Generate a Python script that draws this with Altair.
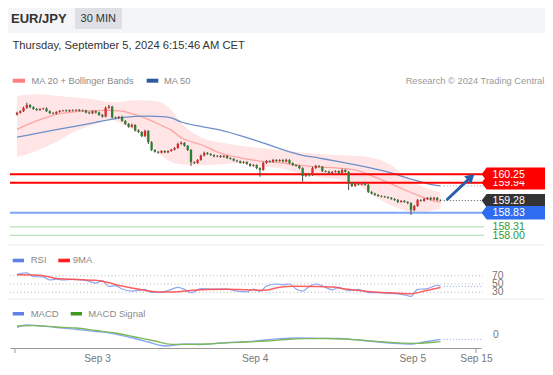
import altair as alt
import pandas as pd

# ---------------- data ----------------
first_open = 162.45
closes = [
    162.52, 162.58, 162.70, 162.81, 162.73, 162.66, 162.62, 162.66, 162.68, 162.58,
    162.51, 162.49, 162.55, 162.59, 162.61, 162.58, 162.62, 162.60, 162.63, 162.59,
    162.61, 162.53, 162.50, 162.58, 162.53, 162.44, 162.38, 162.70, 162.75, 162.35,
    162.33, 162.37, 162.22, 162.11, 162.00, 162.07, 161.87, 161.81, 161.66, 161.85,
    161.43, 161.15, 161.08, 161.05, 161.11, 161.06, 161.11, 161.16, 161.22, 161.37,
    161.41, 161.30, 161.15, 160.70, 160.67, 160.78, 160.94, 161.04, 161.00, 160.96,
    160.91, 160.93, 160.89, 160.93, 160.85, 160.82, 160.76, 160.73, 160.67, 160.70,
    160.63, 160.56, 160.59, 160.48, 160.41, 160.67, 160.74, 160.71, 160.78, 160.74,
    160.78, 160.72, 160.78, 160.66, 160.59, 160.56, 160.48, 160.19, 160.26, 160.22,
    160.48, 160.56, 160.53, 160.37, 160.35, 160.30, 160.34, 160.37, 160.30, 160.41,
    160.34, 159.93, 159.82, 159.89, 159.87, 159.90, 159.86, 159.60, 159.54, 159.49,
    159.45, 159.43, 159.41, 159.38, 159.34, 159.30, 159.23, 159.27, 159.23, 159.19,
    158.93, 159.08, 159.30, 159.27, 159.34, 159.38, 159.32, 159.38, 159.30, 159.28,
]
wick_up = [
    0.04, 0.03, 0.05, 0.08, 0.03, 0.03, 0.04, 0.03, 0.03, 0.04,
    0.03, 0.04, 0.03, 0.03, 0.02, 0.03, 0.02, 0.03, 0.02, 0.03,
    0.03, 0.02, 0.04, 0.03, 0.03, 0.03, 0.04, 0.05, 0.06, 0.03,
    0.03, 0.03, 0.04, 0.03, 0.03, 0.05, 0.03, 0.04, 0.03, 0.05,
    0.03, 0.04, 0.03, 0.03, 0.03, 0.03, 0.03, 0.03, 0.04, 0.05,
    0.06, 0.03, 0.03, 0.03, 0.03, 0.03, 0.04, 0.05, 0.03, 0.03,
    0.03, 0.03, 0.03, 0.03, 0.03, 0.03, 0.03, 0.03, 0.03, 0.04,
    0.03, 0.03, 0.04, 0.03, 0.03, 0.05, 0.04, 0.03, 0.04, 0.03,
    0.03, 0.03, 0.05, 0.03, 0.03, 0.03, 0.03, 0.03, 0.04, 0.03,
    0.05, 0.04, 0.03, 0.03, 0.03, 0.03, 0.03, 0.03, 0.03, 0.05,
    0.03, 0.03, 0.03, 0.04, 0.03, 0.03, 0.03, 0.03, 0.03, 0.03,
    0.03, 0.03, 0.03, 0.03, 0.03, 0.03, 0.04, 0.03, 0.03, 0.03,
    0.03, 0.04, 0.04, 0.03, 0.04, 0.03, 0.04, 0.04, 0.03, 0.02,
]
wick_dn = [
    0.03, 0.03, 0.03, 0.03, 0.04, 0.03, 0.03, 0.03, 0.03, 0.03,
    0.04, 0.03, 0.03, 0.03, 0.03, 0.02, 0.03, 0.03, 0.03, 0.02,
    0.03, 0.03, 0.03, 0.03, 0.04, 0.03, 0.04, 0.03, 0.03, 0.04,
    0.03, 0.03, 0.03, 0.04, 0.03, 0.03, 0.04, 0.03, 0.04, 0.03,
    0.06, 0.04, 0.03, 0.04, 0.03, 0.03, 0.03, 0.03, 0.03, 0.03,
    0.03, 0.03, 0.04, 0.14, 0.04, 0.03, 0.03, 0.03, 0.03, 0.03,
    0.03, 0.03, 0.03, 0.03, 0.03, 0.03, 0.03, 0.04, 0.03, 0.03,
    0.03, 0.03, 0.03, 0.04, 0.25, 0.03, 0.03, 0.03, 0.03, 0.03,
    0.03, 0.03, 0.03, 0.03, 0.03, 0.03, 0.04, 0.21, 0.04, 0.05,
    0.03, 0.03, 0.03, 0.04, 0.03, 0.03, 0.03, 0.03, 0.03, 0.03,
    0.03, 0.26, 0.04, 0.03, 0.03, 0.03, 0.03, 0.04, 0.03, 0.03,
    0.03, 0.03, 0.03, 0.03, 0.03, 0.03, 0.04, 0.03, 0.03, 0.04,
    0.18, 0.04, 0.03, 0.03, 0.03, 0.03, 0.03, 0.03, 0.03, 0.02,
]

ov_idx = [0, 6, 12, 18, 24, 28, 32, 36, 40, 44, 47, 50, 56, 62, 68, 74, 80, 86, 92, 98, 104, 110, 114, 118, 122, 126, 129]
bb_upper = [163.14, 163.20, 163.15, 163.08, 163.00, 162.92, 162.93, 162.98, 162.97, 162.90, 162.62, 162.15, 161.62, 161.42, 161.30, 161.22, 161.14, 161.06, 161.00, 160.95, 160.93, 160.80, 160.58, 160.20, 159.88, 159.68, 159.58]
bb_lower = [160.88, 161.12, 161.45, 161.85, 162.12, 162.30, 162.10, 161.85, 161.45, 160.95, 160.70, 160.62, 160.58, 160.62, 160.68, 160.55, 160.48, 160.28, 160.15, 160.05, 159.85, 159.35, 159.10, 158.92, 158.82, 158.90, 159.00]
ma20 = [161.91, 162.22, 162.46, 162.56, 162.60, 162.61, 162.58, 162.45, 162.28, 162.05, 161.88, 161.60, 161.35, 161.03, 160.86, 160.74, 160.68, 160.58, 160.52, 160.48, 160.38, 160.10, 159.90, 159.68, 159.48, 159.30, 159.22]
ma50 = [161.62, 161.76, 161.90, 162.03, 162.17, 162.26, 162.34, 162.39, 162.40, 162.38, 162.33, 162.18, 162.02, 161.88, 161.68, 161.45, 161.20, 160.98, 160.85, 160.72, 160.58, 160.42, 160.30, 160.15, 160.01, 159.88, 159.82]

rsi_idx = [0, 3, 5, 8, 10, 12, 14, 17, 20, 23, 24, 26, 28, 30, 32, 35, 38, 39, 41, 44, 46, 49, 51, 53, 56, 60, 64, 67, 70, 72, 74, 76, 79, 81, 83, 85, 87, 89, 91, 94, 96, 98, 101, 104, 107, 110, 113, 116, 119, 120, 122, 125, 128, 129]
rsi_val = [73.5, 77, 68, 67, 60, 61.5, 60, 61, 60, 54, 52, 58, 44, 46, 38, 33, 36, 37, 29.5, 30, 34, 42, 37, 29, 39, 37.5, 37.5, 33, 31, 38, 32, 45, 50, 48, 50, 38, 33, 44, 50, 42, 36, 42, 34, 37, 29, 29, 28, 26, 22, 20, 37, 39, 47, 44]
ma9_idx = [0, 5, 10, 12, 18, 24, 27, 32, 38, 43, 48, 52, 58, 64, 70, 75, 80, 84, 90, 96, 100, 106, 110, 116, 120, 124, 129]
ma9_val = [72, 71.5, 67, 63, 61, 59, 55, 45, 36, 31, 31, 33.5, 37, 37.5, 36, 35, 42, 44.5, 44, 42.5, 38, 33, 30, 28, 26.5, 33, 41.6]

macd_idx = [0, 3, 6, 12, 18, 24, 28, 34, 40, 44, 46, 48, 52, 56, 62, 68, 74, 80, 86, 92, 98, 104, 110, 116, 120, 124, 129]
macd_val = [0.077, 0.10, 0.095, 0.075, 0.057, 0.035, 0.022, -0.02, -0.07, -0.105, -0.11, -0.10, -0.09, -0.095, -0.078, -0.07, -0.055, -0.037, -0.03, -0.033, -0.035, -0.05, -0.07, -0.085, -0.09, -0.07, -0.043]
sig_idx = [0, 5, 12, 18, 24, 30, 36, 42, 47, 52, 58, 64, 70, 76, 82, 88, 94, 100, 106, 112, 118, 122, 126, 129]
sig_val = [0.09, 0.093, 0.08, 0.07, 0.045, 0.02, -0.02, -0.06, -0.093, -0.093, -0.09, -0.078, -0.07, -0.06, -0.045, -0.037, -0.035, -0.04, -0.055, -0.07, -0.082, -0.083, -0.075, -0.067]

res_levels = [160.25, 159.94]
last_price = [159.28]
pivot_level = [158.83]
sup_levels = [158.31, 158.00]

rsi_levels = [70, 50, 30]
macd_zero = [0]

date_labels = ["Sep 3", "Sep 4", "Sep 5", "Sep 15"]
date_pos = [24.4, 72.4, 120.4, 139.8]

arrow_idx = [131.1, 137.6]
arrow_price = [159.33, 160.07]
arrow_head_idx = [138.3]
arrow_head_price = [160.15]

# ---------------- scales / helpers ----------------
FONT = "Liberation Sans"
XDOM = [-0.6, 139.8]
xs = alt.Scale(domain=XDOM, nice=False, zero=False)
ps = alt.Scale(domain=[153.841, 166.387], nice=False, zero=False)
rs = alt.Scale(domain=[-104.22, 715.06], nice=False, zero=False)
ms = alt.Scale(domain=[-0.13, 3.27], nice=False, zero=False)

expr = "'" + date_labels[-1] + "'"
for k in range(len(date_pos) - 2, -1, -1):
    thr = (date_pos[k] + date_pos[k + 1]) / 2
    expr = f"datum.value < {thr} ? '{date_labels[k]}' : ({expr})"

x_axis = alt.Axis(values=date_pos, labelExpr=expr, title=None, ticks=False, tickSize=0,
                  domainColor="#9a9a9a", domainWidth=1, labelColor="#777777",
                  labelFontSize=10.2, labelFont=FONT, labelPadding=5, grid=False,
                  labelFlush=False, labelOverlap=False, zindex=2)


def X(f):
    return alt.X(f, type="quantitative", scale=xs, axis=x_axis)


def Y(f, sc):
    return alt.Y(f, type="quantitative", scale=sc, axis=None)


one = pd.DataFrame({"k": [0]})


def px_rect(x1, y1, x2, y2, color):
    return alt.Chart(one).mark_rect(color=color).encode(
        x=alt.value(x1 - 10), x2=alt.value(x2 - 10), y=alt.value(y1 - 8), y2=alt.value(y2 - 8))


def px_text(t, x, y, size, color, weight="normal", align="left"):
    return alt.Chart(pd.DataFrame({"t": [t]})).mark_text(
        align=align, baseline="alphabetic", fontSize=size, color=color, fontWeight=weight, font=FONT
    ).encode(x=alt.value(x - 10), y=alt.value(y - 8), text="t:N")


# ---------------- tables ----------------
opens = [first_open] + closes[:-1]
cdf = pd.DataFrame({"i": range(len(closes)), "o": opens, "c": closes, "wu": wick_up, "wd": wick_dn})
cdf["hi"] = cdf[["o", "c"]].max(axis=1) + cdf["wu"]
cdf["lo"] = cdf[["o", "c"]].min(axis=1) - cdf["wd"]
cdf["col"] = ["#d92b2b" if c > o else "#2e7d32" for o, c in zip(opens, closes)]

odf = pd.DataFrame({"i": ov_idx, "up": bb_upper, "lo": bb_lower, "ma20": ma20, "ma50": ma50})

# ---------------- background / frame ----------------
bg = alt.layer(
    px_rect(0, 33, 547, 244, "white"),
    px_rect(0, 246, 547, 298, "white"),
    px_rect(0, 300, 547, 375, "white"),
    px_rect(75, 7, 122, 29, "#dde1e6"),
)

# ---------------- price panel ----------------
band = alt.Chart(odf).mark_area(color="#ffe5e5", interpolate="monotone").encode(
    x=X("i"), y=Y("up", ps), y2="lo")
l20 = alt.Chart(odf).mark_line(color="#ffa3a3", strokeWidth=1.3, interpolate="monotone").encode(
    x=X("i"), y=Y("ma20", ps))
l50 = alt.Chart(odf).mark_line(color="#6d8fc9", strokeWidth=1.3, interpolate="monotone").encode(
    x=X("i"), y=Y("ma50", ps))

res_rules = alt.Chart(pd.DataFrame({"p": res_levels})).mark_rule(color="#ff0000", strokeWidth=2).encode(
    y=Y("p", ps), x=alt.value(0), x2=alt.value(474))
piv_rule = alt.Chart(pd.DataFrame({"p": pivot_level})).mark_rule(color="#7ea6f4", strokeWidth=2).encode(
    y=Y("p", ps), x=alt.value(0), x2=alt.value(474))
sup_rules = alt.Chart(pd.DataFrame({"p": sup_levels})).mark_rule(color="#a9d8a9", strokeWidth=1).encode(
    y=Y("p", ps), x=alt.value(0), x2=alt.value(474))

ext50 = alt.Chart(pd.DataFrame({"i": [ov_idx[-1] + 1], "p": [ma50[-1]]})).mark_rule(
    color="#8fa3c8", strokeWidth=1, strokeDash=[1, 2]).encode(x=X("i"), x2=alt.value(474), y=Y("p", ps))
extlast = alt.Chart(pd.DataFrame({"i": [len(closes)], "p": last_price})).mark_rule(
    color="#555555", strokeWidth=1, strokeDash=[1, 2]).encode(x=X("i"), x2=alt.value(474), y=Y("p", ps))

wicks = alt.Chart(cdf).mark_rule(color="#4a4a4a", strokeWidth=1).encode(
    x=X("i"), y=Y("lo", ps), y2="hi")
bodies = alt.Chart(cdf).mark_bar(size=2.3).encode(
    x=X("i"), y=Y("o", ps), y2="c", color=alt.Color("col:N", scale=None))

arrow = alt.Chart(pd.DataFrame({"i": arrow_idx, "p": arrow_price})).mark_line(
    color="#2c5ea8", strokeWidth=3, strokeCap="round").encode(x=X("i"), y=Y("p", ps))
head = alt.Chart(pd.DataFrame({"i": arrow_head_idx, "p": arrow_head_price})).mark_point(
    shape="triangle-up", angle=48, filled=True, size=110, color="#2c5ea8", opacity=1).encode(
    x=X("i"), y=Y("p", ps))

TAG = "M -1 0 L -0.854 -0.196 L 1 -0.196 L 1 0.196 L -0.854 0.196 Z"


def tag(price, color):
    d = pd.DataFrame({"p": [price]})
    t = alt.Chart(d).mark_point(shape=TAG, size=4665, filled=True, color=color, opacity=1,
                                strokeWidth=0).encode(x=alt.value(505.8), y=Y("p", ps))
    s = alt.Chart(d).mark_text(align="left", baseline="middle", fontSize=10.6, color="white",
                               font=FONT, dy=0.5).encode(
        x=alt.value(482.5), y=Y("p", ps), text=alt.Text("p:Q", format=".2f"))
    return [t, s]


tags = (tag(res_levels[1], "#ff0000") + tag(res_levels[0], "#ff0000")
        + tag(last_price[0], "#333333") + tag(pivot_level[0], "#2f6df0"))
sup_text = alt.Chart(pd.DataFrame({"p": sup_levels})).mark_text(
    align="left", baseline="middle", fontSize=10.6, color="#2f9a2f", font=FONT, dy=0.5).encode(
    x=alt.value(482.5), y=Y("p", ps), text=alt.Text("p:Q", format=".2f"))

price = alt.layer(band, l20, l50, res_rules, piv_rule, sup_rules, ext50, extlast,
                  wicks, bodies, arrow, head, *tags, sup_text)

# ---------------- RSI panel ----------------
rlev = alt.Chart(pd.DataFrame({"r": rsi_levels})).mark_rule(
    color="#b5b5b5", strokeWidth=1, strokeDash=[1, 2.5]).encode(
    y=Y("r", rs), x=alt.value(0), x2=alt.value(473))
rline = alt.Chart(pd.DataFrame({"i": rsi_idx, "r": rsi_val})).mark_line(
    color="#8ea8f3", strokeWidth=1.2, interpolate="monotone").encode(x=X("i"), y=Y("r", rs))
mline = alt.Chart(pd.DataFrame({"i": ma9_idx, "r": ma9_val})).mark_line(
    color="#ff4545", strokeWidth=1.5, interpolate="monotone", opacity=0.85).encode(x=X("i"), y=Y("r", rs))
rext = alt.Chart(pd.DataFrame({"i": [rsi_idx[-1] + 1], "r": [rsi_val[-1]]})).mark_rule(
    color="#8ea8f3", strokeWidth=1, strokeDash=[1, 2]).encode(x=X("i"), x2=alt.value(473), y=Y("r", rs))
rlab = alt.Chart(pd.DataFrame({"r": rsi_levels})).mark_text(
    align="left", baseline="middle", fontSize=10.4, color="#777777", font=FONT).encode(
    x=alt.value(482), y=Y("r", rs), text=alt.Text("r:Q", format="d"))
rsi = alt.layer(rlev, rline, mline, rext, rlab)

# ---------------- MACD panel ----------------
mcd = alt.Chart(pd.DataFrame({"i": macd_idx, "m": macd_val})).mark_line(
    color="#8aa6f2", strokeWidth=1.3, interpolate="monotone").encode(x=X("i"), y=Y("m", ms))
sig = alt.Chart(pd.DataFrame({"i": sig_idx, "m": sig_val})).mark_line(
    color="#7cb85a", strokeWidth=1.3, interpolate="monotone").encode(x=X("i"), y=Y("m", ms))
mext = alt.Chart(pd.DataFrame({"i": [macd_idx[-1] + 1], "m": [macd_val[-1]]})).mark_rule(
    color="#8aa6f2", strokeWidth=1, strokeDash=[1, 2]).encode(x=X("i"), x2=alt.value(473), y=Y("m", ms))
mlab = alt.Chart(pd.DataFrame({"m": macd_zero})).mark_text(
    align="left", baseline="middle", fontSize=10.4, color="#777777", font=FONT).encode(
    x=alt.value(483), y=Y("m", ms), text=alt.Text("m:Q", format="d"))
endticks = alt.Chart(pd.DataFrame({"i": XDOM})).mark_rule(color="#9a9a9a", strokeWidth=1).encode(
    x=X("i"), y=alt.value(340), y2=alt.value(345))
macd = alt.layer(mcd, sig, mext, mlab, endticks)

# ---------------- texts ----------------
fg = alt.layer(
    px_text("EUR/JPY", 11, 22.7, 13, "#333333", weight="bold"),
    px_text("30 MIN", 98.3, 22, 11, "#333333", align="center"),
    px_text("Thursday, September 5, 2024 6:15:46 AM CET", 12.5, 49.3, 11.2, "#333333"),
    px_rect(12.7, 78.7, 25, 82.7, "#ff7f7f"),
    px_text("MA 20 + Bollinger Bands", 31.5, 84, 9.3, "#8a8a8a"),
    px_rect(146.7, 78.7, 158.3, 82.7, "#2f5aa0"),
    px_text("MA 50", 164, 84, 9.3, "#8a8a8a"),
    px_text("Research \u00a9 2024 Trading Central", 544.3, 84, 9.3, "#9a9a9a", align="right"),
    px_rect(12.7, 258.7, 24, 262.3, "#5f80e6"),
    px_text("RSI", 30.7, 263.3, 9.5, "#8a8a8a"),
    px_rect(58.3, 258.7, 70, 262.3, "#ff1f1f"),
    px_text("9MA", 72.7, 263.3, 9.5, "#8a8a8a"),
    px_rect(12.7, 312, 24, 315.5, "#5f80e6"),
    px_text("MACD", 30.7, 316.7, 9.5, "#8a8a8a"),
    px_rect(70.7, 312, 82, 315.5, "#3f9a1f"),
    px_text("MACD Signal", 88.3, 316.7, 9.5, "#8a8a8a"),
)

chart = alt.layer(bg, price, rsi, macd, fg).resolve_scale(y="independent").properties(
    width=471, height=340,
    padding={"left": 2, "top": 0, "right": 64, "bottom": 19},
    autosize=alt.AutoSizeParams(type="none"),
    background="#f4f5f7",
).configure_view(stroke=None)

chart.save("out.html", embed_options={"renderer": "svg", "actions": False})
